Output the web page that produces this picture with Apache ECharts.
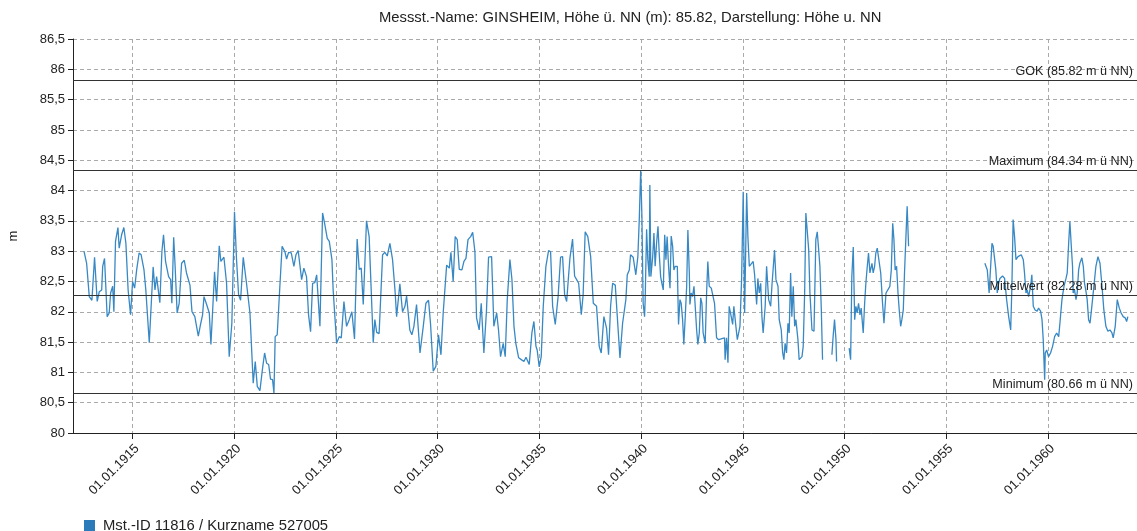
<!DOCTYPE html>
<html>
<head>
<meta charset="utf-8">
<script src="https://cdn.jsdelivr.net/npm/echarts@6/dist/echarts.min.js"></script>
<style>
  html, body { margin: 0; padding: 0; background: #fff; }
  #main { width: 1137px; height: 531px; }
</style>
</head>
<body>
<div id="main"></div>
<script>
// decimal years of the readings (null value = gap in the record)
var years = [
  1912.61, 1912.74, 1912.87, 1913.00, 1913.13, 1913.26, 1913.36, 1913.48, 1913.53, 1913.62,
  1913.75, 1913.85, 1913.92, 1914.02, 1914.08, 1914.16, 1914.28, 1914.34, 1914.46, 1914.57,
  1914.67, 1914.78, 1914.90, 1915.00, 1915.10, 1915.20, 1915.32, 1915.42, 1915.56, 1915.65,
  1915.82, 1915.91, 1916.01, 1916.10, 1916.18, 1916.34, 1916.44, 1916.52, 1916.62, 1916.77,
  1916.87, 1916.93, 1917.02, 1917.09, 1917.19, 1917.29, 1917.41, 1917.54, 1917.65, 1917.82,
  1917.92, 1918.06, 1918.23, 1918.34, 1918.44, 1918.51, 1918.64, 1918.77, 1918.85, 1918.93,
  1919.03, 1919.13, 1919.26, 1919.34, 1919.49, 1919.62, 1919.75, 1919.88, 1920.01, 1920.11,
  1920.21, 1920.31, 1920.44, 1920.60, 1920.77, 1920.93, 1921.03, 1921.13, 1921.26, 1921.39,
  1921.49, 1921.59, 1921.69, 1921.78, 1921.88, 1921.95, 1922.01, 1922.11, 1922.24, 1922.35,
  1922.49, 1922.57, 1922.67, 1922.80, 1922.93, 1923.03, 1923.14, 1923.31, 1923.42, 1923.55,
  1923.65, 1923.75, 1923.85, 1923.96, 1924.05, 1924.21, 1924.34, 1924.44, 1924.57, 1924.67,
  1924.80, 1924.86, 1925.03, 1925.16, 1925.26, 1925.39, 1925.52, 1925.65, 1925.78, 1925.91,
  1926.04, 1926.14, 1926.24, 1926.34, 1926.50, 1926.63, 1926.83, 1926.91, 1927.00, 1927.12,
  1927.29, 1927.40, 1927.52, 1927.65, 1927.78, 1927.90, 1927.98, 1928.06, 1928.14, 1928.27,
  1928.39, 1928.47, 1928.63, 1928.73, 1928.83, 1928.96, 1929.13, 1929.29, 1929.42, 1929.55,
  1929.65, 1929.78, 1929.91, 1930.04, 1930.16, 1930.27, 1930.44, 1930.57, 1930.65, 1930.76,
  1930.86, 1930.96, 1931.06, 1931.19, 1931.29, 1931.39, 1931.49, 1931.62, 1931.72, 1931.83,
  1931.91, 1932.04, 1932.14, 1932.27, 1932.40, 1932.50, 1932.65, 1932.76, 1932.90, 1932.99,
  1933.09, 1933.22, 1933.32, 1933.42, 1933.55, 1933.65, 1933.75, 1933.84, 1933.98, 1934.11,
  1934.24, 1934.34, 1934.50, 1934.63, 1934.73, 1934.83, 1934.89, 1934.99, 1935.09, 1935.19,
  1935.32, 1935.45, 1935.55, 1935.65, 1935.78, 1935.92, 1936.04, 1936.14, 1936.24, 1936.34,
  1936.42, 1936.50, 1936.63, 1936.73, 1936.83, 1936.93, 1937.06, 1937.15, 1937.25, 1937.38,
  1937.52, 1937.65, 1937.81, 1937.94, 1938.04, 1938.17, 1938.30, 1938.40, 1938.50, 1938.60,
  1938.73, 1938.86, 1938.96, 1939.02, 1939.09, 1939.16, 1939.25, 1939.32, 1939.42, 1939.48,
  1939.61, 1939.68, 1939.74, 1939.84, 1939.91, 1939.98, 1940.04, 1940.10, 1940.17, 1940.20,
  1940.27, 1940.33, 1940.40, 1940.43, 1940.48, 1940.57, 1940.63, 1940.69, 1940.76, 1940.83,
  1940.89, 1940.96, 1941.02, 1941.09, 1941.16, 1941.22, 1941.28, 1941.35, 1941.42, 1941.48,
  1941.55, 1941.61, 1941.68, 1941.78, 1941.84, 1941.91, 1941.97, 1942.04, 1942.10, 1942.17,
  1942.24, 1942.30, 1942.37, 1942.40, 1942.46, 1942.53, 1942.60, 1942.66, 1942.73, 1942.79,
  1942.86, 1942.93, 1942.99, 1943.05, 1943.15, 1943.22, 1943.28, 1943.35, 1943.45, 1943.52,
  1943.61, 1943.71, 1943.81, 1944.10, 1944.13, 1944.20, 1944.27, 1944.33, 1944.43, 1944.50,
  1944.56, 1944.63, 1944.66, 1944.73, 1944.86, 1944.94, 1945.02, 1945.09, 1945.19, 1945.25,
  1945.32, 1945.41, 1945.51, 1945.58, 1945.68, 1945.74, 1945.81, 1945.88, 1945.94, 1946.00,
  1946.10, 1946.17, 1946.27, 1946.37, 1946.43, 1946.56, 1946.63, 1946.73, 1946.79, 1946.89,
  1946.96, 1947.02, 1947.08, 1947.15, 1947.22, 1947.28, 1947.35, 1947.41, 1947.48, 1947.55,
  1947.61, 1947.71, 1947.77, 1947.91, 1947.97, 1948.04, 1948.10, 1948.17, 1948.24, 1948.30,
  1948.40, 1948.50, 1948.59, 1948.66, 1948.73, 1948.79, 1948.86, 1948.92, 1949.10, 1949.38,
  1949.44, 1949.51, 1949.58, 1949.61, 1949.90, 1950.23, 1950.30, 1950.36, 1950.43, 1950.50,
  1950.56, 1950.62, 1950.69, 1950.76, 1950.82, 1950.92, 1950.99, 1951.05, 1951.12, 1951.18,
  1951.25, 1951.35, 1951.41, 1951.48, 1951.54, 1951.61, 1951.68, 1951.78, 1951.87, 1951.94,
  1952.04, 1952.13, 1952.23, 1952.30, 1952.37, 1952.43, 1952.49, 1952.56, 1952.63, 1952.69,
  1952.76, 1952.82, 1952.89, 1952.95, 1953.02, 1953.08, 1953.15, 1955.00, 1956.90, 1957.02,
  1957.11, 1957.18, 1957.25, 1957.31, 1957.38, 1957.44, 1957.51, 1957.58, 1957.64, 1957.77,
  1957.87, 1957.97, 1958.07, 1958.17, 1958.23, 1958.29, 1958.36, 1958.43, 1958.53, 1958.62,
  1958.69, 1958.79, 1958.85, 1958.92, 1958.98, 1959.05, 1959.15, 1959.21, 1959.28, 1959.37,
  1959.47, 1959.54, 1959.64, 1959.71, 1959.77, 1959.84, 1959.87, 1959.94, 1960.03, 1960.13,
  1960.23, 1960.33, 1960.43, 1960.53, 1960.59, 1960.69, 1960.79, 1960.89, 1960.95, 1961.02,
  1961.08, 1961.15, 1961.21, 1961.24, 1961.31, 1961.38, 1961.44, 1961.51, 1961.57, 1961.67,
  1961.74, 1961.80, 1961.87, 1961.93, 1962.00, 1962.07, 1962.16, 1962.26, 1962.36, 1962.46,
  1962.56, 1962.66, 1962.75, 1962.85, 1962.95, 1963.05, 1963.15, 1963.21, 1963.31, 1963.41,
  1963.51, 1963.60, 1963.70, 1963.80, 1963.87, 1963.93
];
// water level, m above sea level (NN)
var levels = [
  83.00, 82.80, 82.25, 82.19, 82.90, 82.17, 82.33, 82.36, 82.75, 82.88,
  81.92, 81.98, 82.31, 82.42, 82.00, 83.16, 83.39, 83.05, 83.27, 83.39,
  83.13, 82.36, 81.95, 82.50, 82.39, 82.69, 82.97, 82.94, 82.69, 82.36,
  81.49, 81.51, 82.74, 82.36, 82.58, 82.15, 82.99, 83.27, 82.83, 82.58,
  82.53, 82.14, 83.23, 82.75, 81.98, 82.14, 82.80, 82.85, 82.64, 82.44,
  82.00, 81.92, 81.60, 81.79, 81.95, 82.25, 82.12, 81.98, 81.46, 81.98,
  82.66, 82.17, 83.09, 82.83, 82.90, 82.47, 81.26, 81.81, 83.65, 82.86,
  82.28, 82.19, 82.90, 82.47, 81.98, 80.82, 81.18, 80.77, 80.70, 81.07,
  81.32, 81.15, 81.13, 80.89, 80.88, 80.66, 81.59, 81.62, 82.42, 83.08,
  82.99, 82.87, 82.98, 82.97, 82.75, 82.94, 83.01, 82.53, 82.72, 82.58,
  81.95, 81.67, 82.47, 82.48, 82.61, 81.76, 83.63, 83.46, 83.21, 83.16,
  82.86, 82.36, 81.48, 81.59, 81.57, 82.17, 81.76, 81.87, 82.00, 81.55,
  83.20, 82.70, 82.72, 82.12, 83.50, 83.24, 81.49, 81.87, 81.66, 81.64,
  82.94, 82.98, 82.92, 83.13, 82.86, 82.36, 81.92, 81.92, 82.46, 82.00,
  82.09, 82.26, 81.70, 81.62, 81.76, 82.12, 81.32, 81.76, 82.14, 82.19,
  81.79, 81.02, 81.10, 81.62, 81.29, 81.98, 82.77, 82.72, 82.98, 82.50,
  83.24, 83.19, 82.70, 82.69, 82.83, 82.88, 83.19, 83.24, 83.31, 82.99,
  81.90, 81.70, 82.14, 81.32, 82.03, 82.90, 82.91, 81.76, 81.98, 81.70,
  81.26, 81.48, 81.26, 82.20, 82.86, 82.53, 81.76, 81.48, 81.24, 81.21,
  81.18, 81.25, 81.13, 81.65, 81.84, 81.43, 81.37, 81.09, 81.26, 82.09,
  82.75, 83.01, 82.99, 82.09, 81.79, 82.25, 82.90, 82.91, 82.28, 82.17,
  82.53, 82.88, 83.20, 82.59, 82.53, 82.47, 81.95, 82.28, 83.32, 83.24,
  82.91, 82.14, 82.09, 81.43, 81.32, 81.92, 81.73, 81.29, 82.09, 82.47,
  82.44, 81.76, 81.24, 81.22, 81.81, 81.80, 82.20, 82.61, 82.69, 82.94,
  82.90, 82.89, 82.61, 82.91, 83.52, 84.34, 83.57, 82.14, 81.92, 82.20,
  83.36, 82.86, 82.58, 84.09, 82.58, 82.91, 83.30, 82.75, 83.13, 83.41,
  82.97, 82.58, 82.47, 82.36, 83.27, 82.86, 83.24, 82.75, 82.39, 83.25,
  83.08, 82.69, 82.75, 82.75, 81.79, 82.20, 82.14, 81.87, 81.46, 81.92,
  82.42, 83.35, 82.64, 82.12, 82.31, 82.25, 82.42, 82.09, 81.70, 81.46,
  81.65, 82.23, 82.14, 81.65, 81.48, 82.31, 82.83, 82.42, 82.39, 82.36,
  82.14, 81.57, 81.54, 81.57, 81.21, 81.57, 81.16, 82.09, 81.92, 81.79,
  82.09, 82.09, 81.76, 81.54, 81.76, 82.53, 83.98, 81.98, 83.96, 83.24,
  82.75, 82.74, 82.83, 82.61, 82.12, 82.55, 82.31, 82.47, 81.92, 81.65,
  82.09, 82.75, 82.20, 82.09, 82.42, 83.02, 82.53, 82.42, 81.87, 81.70,
  81.32, 81.21, 81.48, 81.32, 81.81, 81.65, 82.64, 81.92, 82.42, 81.76,
  81.87, 81.54, 81.21, 81.26, 81.43, 82.31, 83.63, 83.60, 83.02, 82.31,
  81.70, 81.68, 83.19, 83.32, 83.02, 82.75, 82.03, 81.21, null, 81.29,
  81.59, 81.87, 81.54, 81.18, null, 81.40, 81.21, 82.58, 83.07, 81.87,
  82.09, 81.98, 82.14, 81.95, 82.06, 81.65, 82.14, 82.47, 82.75, 82.97,
  82.64, 82.80, 82.64, 82.75, 82.97, 83.05, 83.02, 82.64, 82.14, 81.81,
  82.31, 82.34, 82.42, 82.69, 83.46, 83.19, 82.69, 82.75, 82.31, 82.03,
  81.76, 81.87, 82.03, 82.64, 83.24, 83.74, 83.08, null, 82.80, 82.69,
  82.31, 82.31, 83.13, 83.08, 83.08, 82.69, 82.31, 82.47, 82.55, 82.59,
  82.55, 82.20, 81.92, 81.70, 82.42, 83.52, 83.24, 82.86, 82.91, 82.91,
  82.94, 82.86, 82.64, 82.31, 82.36, 82.25, 82.42, 82.61, 82.09, 82.03,
  82.01, 82.06, 82.01, 81.87, 81.54, 80.88, 81.32, 81.37, 81.26, 81.32,
  81.43, 81.59, 81.65, 81.59, 81.81, 82.20, 82.42, 82.55, 82.64, 83.13,
  83.49, 83.08, 82.75, 82.31, 82.36, 82.20, 82.31, 82.69, 82.80, 82.89,
  82.75, 82.47, 82.34, 82.20, 81.87, 81.81, 82.09, 82.42, 82.75, 82.91,
  82.80, 82.42, 82.03, 81.76, 81.68, 81.70, 81.65, 81.57, 81.76, 82.20,
  82.06, 81.98, 81.92, 81.90, 81.84, 81.92
];
var tickYears = [1915, 1920, 1925, 1930, 1935, 1940, 1945, 1950, 1955, 1960];
var refNames = ['GOK', 'Maximum', 'Mittelwert', 'Minimum'];
var refValues = [85.82, 84.34, 82.28, 80.66];

var seriesData = years.map(function (y, i) {
  return [y, levels[i] === null ? '-' : levels[i]];
});

var font = 'Liberation Sans, Arial, sans-serif';
var myChart = echarts.init(document.getElementById('main'));
myChart.setOption({
  animation: false,
  textStyle: { fontFamily: font },
  title: {
    text: 'Messst.-Name: GINSHEIM, Höhe ü. NN (m): 85.82, Darstellung: Höhe u. NN',
    left: 374,
    top: 5,
    textStyle: { fontSize: 14.8, fontWeight: 'normal', color: '#222', fontFamily: font }
  },
  legend: {
    left: 79,
    top: 513,
    icon: 'rect',
    itemWidth: 11,
    itemHeight: 11,
    itemGap: 10,
    textStyle: { fontSize: 14.8, color: '#222', fontFamily: font, padding: [0, 0, 0, 3] },
    data: ['Mst.-ID 11816 / Kurzname 527005']
  },
  grid: { left: 73, right: 0, top: 39, bottom: 98, containLabel: false, outerBoundsMode: 'none' },
  xAxis: {
    type: 'value',
    min: 1912.07,
    max: 1964.38,
    axisLine: { show: true, onZero: false, lineStyle: { color: '#222', width: 1 } },
    axisTick: { show: true, length: 6, customValues: tickYears, lineStyle: { color: '#222' } },
    axisLabel: {
      customValues: tickYears,
      rotate: 45,
      fontSize: 13,
      color: '#222',
      margin: 9,
      verticalAlign: 'top',
      formatter: function (v) { return '01.01.' + v; }
    },
    splitLine: {
      show: true,
      customValues: tickYears,
      lineStyle: { color: '#aaa', type: [4, 3], width: 1 }
    }
  },
  yAxis: {
    type: 'value',
    min: 80,
    max: 86.5,
    interval: 0.5,
    name: 'm',
    nameLocation: 'middle',
    nameGap: 53,
    nameTextStyle: { fontSize: 13, color: '#222' },
    axisLine: { show: true, lineStyle: { color: '#222', width: 1 } },
    axisTick: { show: true, length: 5, lineStyle: { color: '#222' } },
    axisLabel: {
      fontSize: 13,
      color: '#222',
      margin: 8,
      formatter: function (v) { return String(v).replace('.', ','); }
    },
    splitLine: { show: true, lineStyle: { color: '#aaa', type: [4, 3], width: 1 } }
  },
  series: [{
    name: 'Mst.-ID 11816 / Kurzname 527005',
    type: 'line',
    data: seriesData,
    showSymbol: false,
    connectNulls: false,
    color: '#2b7bba',
    lineStyle: { width: 1.3, color: '#3888c4' },
    markLine: {
      silent: true,
      symbol: 'none',
      lineStyle: { color: '#333', type: 'solid', width: 1 },
      label: {
        position: 'insideEndTop',
        distance: [4, 2],
        fontSize: 12.6,
        color: '#222',
        fontFamily: font
      },
      data: refValues.map(function (v, i) {
        return {
          yAxis: v,
          label: { formatter: refNames[i] + ' (' + v.toFixed(2) + ' m ü NN)' }
        };
      })
    }
  }]
});
</script>
</body>
</html>
